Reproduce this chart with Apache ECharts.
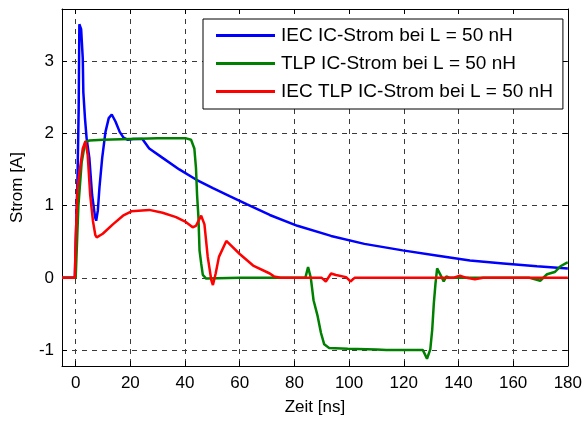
<!DOCTYPE html>
<html>
<head>
<meta charset="utf-8">
<script src="https://cdn.jsdelivr.net/npm/echarts@6/dist/echarts.min.js"></script>
<style>html,body{margin:0;padding:0;background:#fff}#c{width:585px;height:421px}</style>
</head>
<body>
<div id="c"></div>
<script>
// Data
const seriesNames = ['IEC IC-Strom bei L = 50 nH', 'TLP IC-Strom bei L = 50 nH', 'IEC TLP IC-Strom bei L = 50 nH'];

const iecTime = [-5, -0.3, 0, 0.7, 1.1, 1.35, 2.0, 2.6, 2.8, 3.4, 4.0, 5.0, 6.0, 7.1, 7.5, 8.1, 8.7, 9.7, 10.9, 12.1, 13.2, 14.6, 16.1, 17.5, 19.1, 21, 24.4, 26.9, 31.8, 37.9, 44, 50.2, 56.3, 62.5, 71, 81.1, 93.4, 105.6, 119.6, 131.9, 144.2, 156.4, 168.7, 180];
const iecCurrent = [0, 0, 0.45, 1.43, 2.34, 3.51, 3.44, 3.03, 2.57, 2.21, 1.93, 1.66, 1.15, 0.84, 0.79, 0.93, 1.25, 1.66, 2.02, 2.21, 2.26, 2.16, 2.02, 1.94, 1.91, 1.92, 1.92, 1.79, 1.66, 1.50, 1.36, 1.24, 1.13, 1.02, 0.87, 0.72, 0.58, 0.47, 0.38, 0.31, 0.24, 0.20, 0.16, 0.13];

const tlpTime = [-5, 0, 1.0, 2.2, 3.5, 5, 10, 20, 30, 40.4, 42.2, 43.4, 44, 44.4, 44.9, 45.3, 45.9, 46.5, 47.7, 60, 84, 85, 86, 87, 88.5, 89.7, 90.9, 92.7, 99.5, 110, 113.6, 124, 127, 128.5, 129.7, 130.4, 131, 131.6, 132.2, 132.7, 133.7, 134.6, 135.6, 136.8, 150, 166, 168, 169.9, 172.4, 175.2, 177.3, 179.7, 180];
const tlpCurrent = [0, 0, 1.0, 1.6, 1.88, 1.90, 1.91, 1.92, 1.93, 1.93, 1.91, 1.79, 1.52, 1.15, 0.84, 0.38, 0.20, 0.04, -0.01, 0, 0, 0.15, 0, -0.31, -0.53, -0.76, -0.92, -0.97, -0.98, -0.99, -1.0, -1.0, -1.0, -1.12, -0.99, -0.72, -0.35, -0.08, 0.13, 0.15, 0.02, -0.05, 0.02, 0, 0, 0, -0.02, -0.04, 0.05, 0.08, 0.16, 0.21, 0.21];

const iecTlpTime = [-5, -0.3, 0, 0.7, 1.6, 2.6, 3.6, 4.4, 5.3, 6.3, 7.2, 7.7, 9.9, 13.6, 17.3, 20.4, 26.9, 31.8, 36.7, 40.4, 42.8, 44.0, 45.9, 47.1, 48.3, 49.6, 50.2, 51.2, 52.4, 55.1, 60, 64.9, 71, 72.5, 75, 90, 91.5, 93.4, 95.2, 98.9, 100.5, 102, 120, 138, 140.5, 143, 146, 149, 180];
const iecTlpCurrent = [0, 0, 0.52, 1.25, 1.52, 1.79, 1.89, 1.70, 1.15, 0.79, 0.59, 0.56, 0.61, 0.74, 0.86, 0.92, 0.94, 0.90, 0.84, 0.77, 0.70, 0.72, 0.86, 0.74, 0.29, -0.03, -0.10, 0.06, 0.29, 0.51, 0.33, 0.17, 0.06, 0.02, 0, 0, -0.05, 0.06, 0.04, 0.01, -0.05, 0, 0, 0, 0.03, 0, -0.02, 0, 0];

const xTicks = [0, 20, 40, 60, 80, 100, 120, 140, 160, 180];
const yTicks = [-1, 0, 1, 2, 3];
const xRange = [-5, 180];
const yRange = [-1.22, 3.72];

function pairs(t, v) { return t.map((x, i) => [x, v[i]]); }

const FONT = '"Liberation Sans", Arial, Helvetica, sans-serif';
const gridLine = { show: true, lineStyle: { color: '#3a3a3a', type: [5, 5], width: 1 } };
const frameLine = { show: true, onZero: false, lineStyle: { color: '#000', width: 1 } };

const chart = echarts.init(document.getElementById('c'), null, { renderer: 'canvas' });
chart.setOption({
  animation: false,
  backgroundColor: '#fff',
  textStyle: { fontFamily: FONT },
  grid: { left: 62, top: 9, right: 16, bottom: 51, show: false },
  legend: {
    orient: 'vertical', left: 203, top: 19,
    padding: [7, 10, 8, 13], itemGap: 9,
    icon: 'rect', itemWidth: 59, itemHeight: 3,
    backgroundColor: '#fff', borderColor: '#000', borderWidth: 1,
    textStyle: { fontFamily: FONT, fontSize: 19, color: '#000', padding: [0, 0, 0, 1] },
    data: seriesNames
  },
  xAxis: [{
    type: 'value', min: xRange[0], max: xRange[1],
    name: 'Zeit [ns]', nameLocation: 'middle', nameGap: 33,
    nameTextStyle: { fontFamily: FONT, fontSize: 17, color: '#000' },
    axisLine: frameLine,
    axisTick: { show: true, inside: true, length: 5, customValues: xTicks, lineStyle: { color: '#000' } },
    axisLabel: { customValues: xTicks, fontFamily: FONT, fontSize: 17, color: '#000', margin: 9 },
    splitLine: gridLine
  }, {
    type: 'value', min: xRange[0], max: xRange[1], position: 'top',
    axisLine: frameLine,
    axisTick: { show: true, inside: true, length: 5, customValues: xTicks, lineStyle: { color: '#000' } },
    axisLabel: { show: false }, splitLine: { show: false }
  }],
  yAxis: [{
    type: 'value', min: yRange[0], max: yRange[1],
    name: 'Strom [A]', nameLocation: 'middle', nameGap: 36,
    nameTextStyle: { fontFamily: FONT, fontSize: 17, color: '#000' },
    axisLine: frameLine,
    axisTick: { show: true, inside: true, length: 5, customValues: yTicks, lineStyle: { color: '#000' } },
    axisLabel: { customValues: yTicks, fontFamily: FONT, fontSize: 17, color: '#000', margin: 8 },
    splitLine: gridLine
  }, {
    type: 'value', min: yRange[0], max: yRange[1], position: 'right',
    axisLine: frameLine,
    axisTick: { show: true, inside: true, length: 5, customValues: yTicks, lineStyle: { color: '#000' } },
    axisLabel: { show: false }, splitLine: { show: false }
  }],
  series: [
    { name: seriesNames[0], type: 'line', data: pairs(iecTime, iecCurrent), showSymbol: false, symbol: 'none', color: '#0000ff', lineStyle: { width: 2.5, color: '#0000ff' }, z: 3 },
    { name: seriesNames[1], type: 'line', data: pairs(tlpTime, tlpCurrent), showSymbol: false, symbol: 'none', color: '#008000', lineStyle: { width: 2.5, color: '#008000' }, z: 4 },
    { name: seriesNames[2], type: 'line', data: pairs(iecTlpTime, iecTlpCurrent), showSymbol: false, symbol: 'none', color: '#ff0000', lineStyle: { width: 2.5, color: '#ff0000' }, z: 5 }
  ]
});
</script>
</body>
</html>
